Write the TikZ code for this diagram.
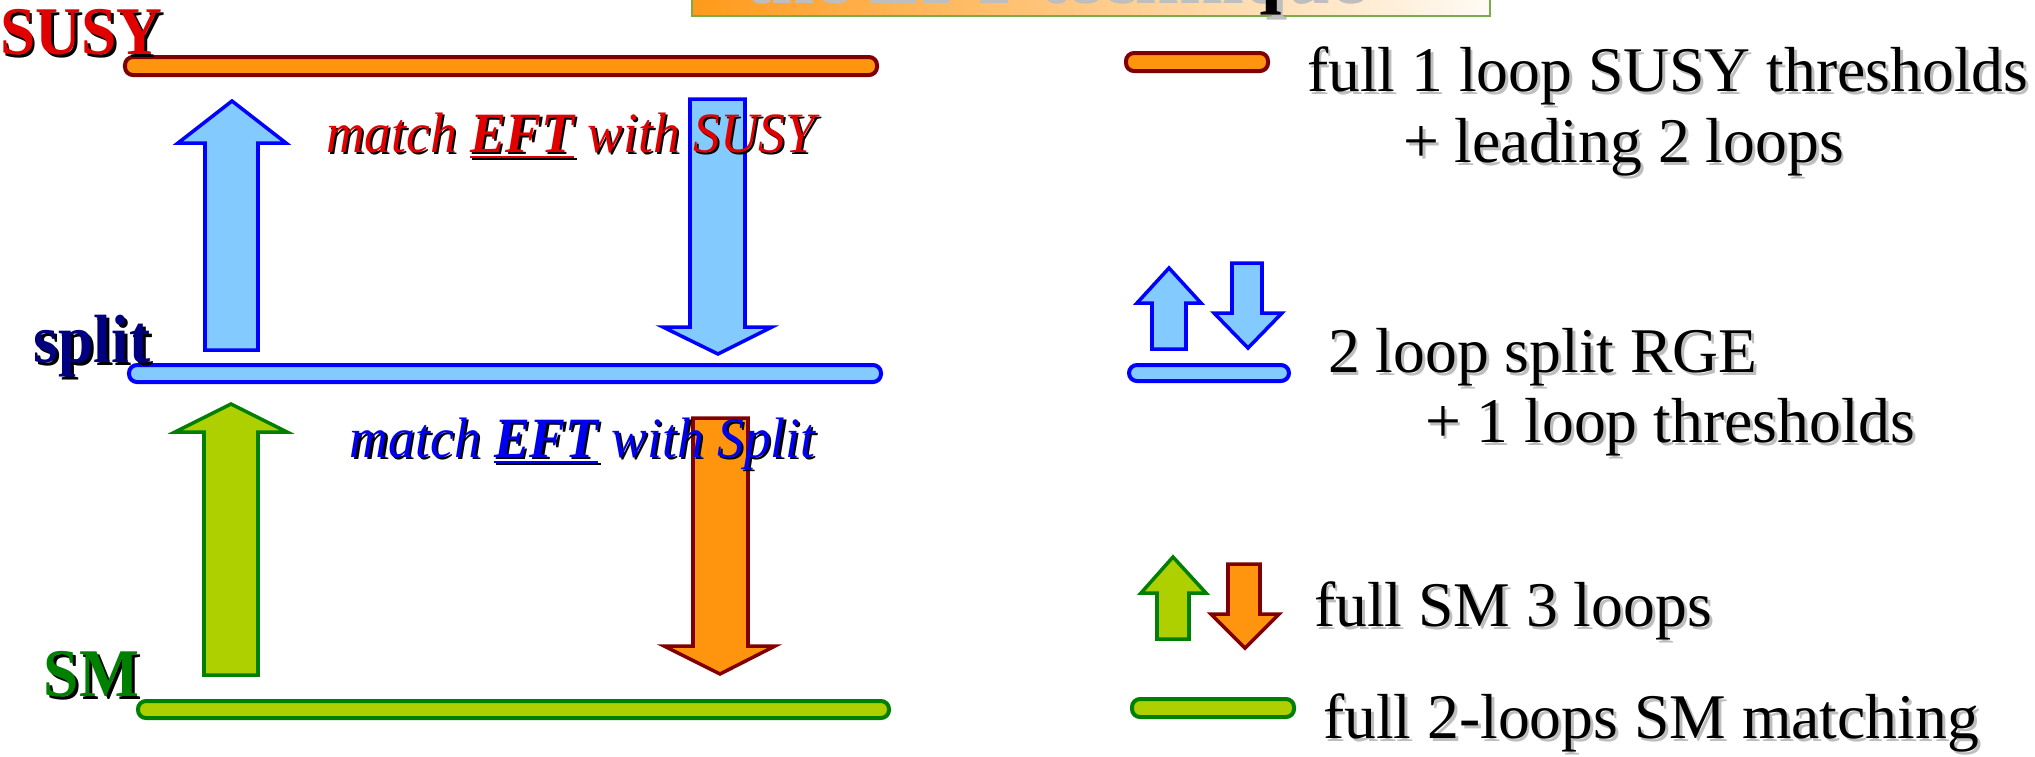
\documentclass[tikz,border=0pt]{standalone}
\usepackage{fontspec}
\setmainfont{Liberation Serif}
\newfontfamily\levelfam[FakeStretch=0.93]{Liberation Serif}
\newfontfamily\matchfam[FakeStretch=0.94]{Liberation Serif}

\definecolor{orfill}{HTML}{FF950E}
\definecolor{ordraw}{HTML}{800000}
\definecolor{blfill}{HTML}{83CAFF}
\definecolor{bldraw}{HTML}{0000FF}
\definecolor{grfill}{HTML}{AECF00}
\definecolor{grdraw}{HTML}{007F00}
\definecolor{susyred}{HTML}{E00000}
\definecolor{splitnavy}{HTML}{000080}
\definecolor{smgreen}{HTML}{008000}
\definecolor{eftblue}{HTML}{0000F0}
\definecolor{lightshadow}{HTML}{BEBEBE}
\definecolor{titleleft}{HTML}{FF9A1A}
\definecolor{titleright}{HTML}{FFFBF5}
\definecolor{titleline}{HTML}{78AD48}

% text with a drop shadow: #1 text colour, #2 shadow colour, #3 text
\newlength\shdx \setlength\shdx{0.85pt}
\newlength\shdy \setlength\shdy{0.85pt}
\newcommand\dropsh[3]{\makebox[0pt][l]{\hspace{\shdx}\raisebox{-\shdy}{\color{#2}#3}}{\color{#1}#3}}

\tikzset{
  txt/.style={inner sep=0pt, outer sep=0pt, anchor=base west},
  levelbar/.style={line width=1.14pt, rounded corners=0.08cm},
  blockarrow/.style={line width=1pt, line join=miter},
  orangeshape/.style={fill=orfill, draw=ordraw},
  blueshape/.style={fill=blfill, draw=bldraw},
  greenshape/.style={fill=grfill, draw=grdraw},
  levelfont/.style={font=\levelfam\fontsize{19.4}{22}\selectfont\bfseries},
  matchfont/.style={font=\matchfam\fontsize{16.2}{19}\selectfont\itshape},
  legendfont/.style={font=\fontsize{18.1}{21}\selectfont},
}

\begin{document}
\begin{tikzpicture}[x=0.01cm, y=-0.01cm]
\useasboundingbox (0,0) rectangle (2035,756);

% title banner, only its lower edge is in view
\shade[left color=titleleft, right color=titleright] (692,-10) rectangle (1490,16);
\draw[titleline, line width=0.6pt] (692,-10) -- (692,16) -- (1490,16) -- (1490,-10);
\setlength\shdx{1.6pt}\setlength\shdy{1.7pt}
\node[txt, font=\fontsize{22.2}{26}\selectfont\bfseries] (title) at (740,-2)
  {\dropsh{black}{lightshadow}{the EFT technique}};

% energy levels
\draw[levelbar, orangeshape] (125,57) rectangle (877,75);
\draw[levelbar, blueshape]   (129,365) rectangle (881,382);
\draw[levelbar, greenshape]  (138,701) rectangle (889,718);

% running between the levels
\draw[blockarrow, blueshape] (205,350) -- (205,143) -- (178,143) -- (232,101) -- (286,143) -- (258,143) -- (258,350) -- cycle;
\draw[blockarrow, blueshape] (690,99) -- (745,99) -- (745,327) -- (772,327) -- (718,354) -- (663,327) -- (690,327) -- cycle;
\draw[blockarrow, greenshape] (204,675) -- (204,432) -- (175,432) -- (231,404) -- (287,432) -- (258,432) -- (258,675) -- cycle;
\draw[blockarrow, orangeshape] (693,418) -- (748,418) -- (748,646) -- (775,646) -- (720,674) -- (664,646) -- (693,646) -- cycle;

% level names
\setlength\shdx{0.85pt}\setlength\shdy{0.85pt}
\node[txt, levelfont] (susy)  at (0,54)   {\dropsh{susyred}{black}{SUSY}};
\node[txt, levelfont] (split) at (34,362) {\dropsh{splitnavy}{black}{split}};
\node[txt, levelfont] (sm)    at (44,696) {\dropsh{smgreen}{black}{SM}};

% matching labels
\setlength\shdx{0.6pt}\setlength\shdy{0.6pt}
\node[txt, matchfont] (matchsusy) at (326,152)
  {\dropsh{susyred}{black}{match \underline{\textbf{EFT}} with SUSY}};
\node[txt, matchfont] (matchsplit) at (350,457)
  {\dropsh{eftblue}{black}{match \underline{\textbf{EFT}} with Split}};

% legend symbols
\draw[levelbar, orangeshape] (1126,53) rectangle (1268,71);
\draw[blockarrow, blueshape] (1152,349) -- (1152,303) -- (1137,303) -- (1169,268) -- (1201,303) -- (1186,303) -- (1186,349) -- cycle;
\draw[blockarrow, blueshape] (1232,263) -- (1262,263) -- (1262,313) -- (1282,313) -- (1248,348) -- (1214,313) -- (1232,313) -- cycle;
\draw[levelbar, blueshape] (1129,365) rectangle (1289,381);
\draw[blockarrow, greenshape] (1157,639) -- (1157,593) -- (1141,593) -- (1173,557) -- (1206,593) -- (1189,593) -- (1189,639) -- cycle;
\draw[blockarrow, orangeshape] (1228,564) -- (1260,564) -- (1260,614) -- (1279,614) -- (1245,648) -- (1211,614) -- (1228,614) -- cycle;
\draw[levelbar, greenshape] (1132,699) rectangle (1294,717);

% legend texts
\setlength\shdx{0.85pt}\setlength\shdy{0.85pt}
\node[txt, legendfont] (leg1a) at (1307,91)  {\dropsh{black}{lightshadow}{full 1 loop SUSY thresholds}};
\node[txt, legendfont] (leg1b) at (1403,162) {\dropsh{black}{lightshadow}{+ leading 2 loops}};
\node[txt, legendfont] (leg2a) at (1328,372) {\dropsh{black}{lightshadow}{2 loop split RGE}};
\node[txt, legendfont] (leg2b) at (1425,442) {\dropsh{black}{lightshadow}{+ 1 loop thresholds}};
\node[txt, legendfont] (leg3)  at (1314,626) {\dropsh{black}{lightshadow}{full SM 3 loops}};
\node[txt, legendfont] (leg4)  at (1323,738) {\dropsh{black}{lightshadow}{full 2-loops SM matching}};
\end{tikzpicture}
\end{document}
